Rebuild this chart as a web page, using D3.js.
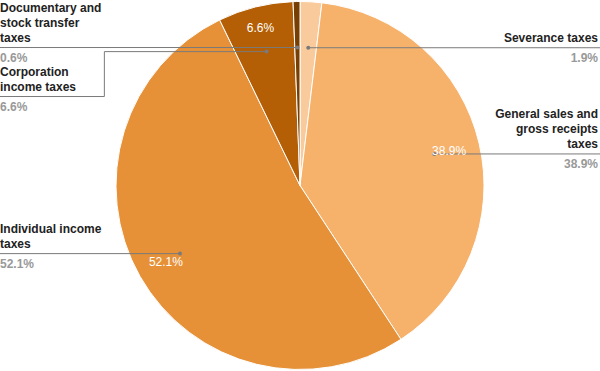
<!DOCTYPE html>
<html>
<head>
<meta charset="utf-8">
<script src="https://cdn.jsdelivr.net/npm/d3@7"></script>
<style>
  body { margin: 0; background: #fff; }
  svg text { font-family: "Liberation Sans", Arial, sans-serif; }
</style>
</head>
<body>
<div id="chart"></div>
<script>
// data, clockwise from 12 o'clock
const categories = [
  "Severance taxes",
  "General sales and gross receipts taxes",
  "Individual income taxes",
  "Corporation income taxes",
  "Documentary and stock transfer taxes"
];
const values = [1.9, 38.9, 52.1, 6.6, 0.6];
const colors = ["#f9cb9c", "#f6b26b", "#e69138", "#b45f06", "#783f04"];

const width = 600;
const height = 371;
const cx = 300, cy = 185.5, R = 184;
const fontSize = 12, lineH = 15, wrapW = 108;

const svg = d3.select("#chart").append("svg")
  .attr("width", width)
  .attr("height", height);

const pie = d3.pie().sort(null).value(d => d);
const arcs = pie(values);
const arc = d3.arc().innerRadius(0).outerRadius(R);

const g = svg.append("g").attr("transform", `translate(${cx},${cy})`);

g.selectAll("path.slice").data(arcs).enter().append("path")
  .attr("class", "slice")
  .attr("d", arc)
  .attr("fill", (d, i) => colors[i])
  .attr("stroke", "#fff")
  .attr("stroke-width", 1);

// text measuring helper
const meas = svg.append("text").attr("font-size", fontSize).attr("font-weight", "bold");
function textW(s, weight) {
  meas.attr("font-weight", weight || "bold").text(s);
  return meas.node().getComputedTextLength();
}
function wrap(s) {
  const words = s.split(" ");
  const lines = [];
  let cur = "";
  words.forEach(w => {
    const t = cur ? cur + " " + w : w;
    if (cur && textW(t) > wrapW) { lines.push(cur); cur = w; }
    else cur = t;
  });
  if (cur) lines.push(cur);
  return lines;
}

const fmt = v => d3.format(".1f")(v) + "%";

// leader label data
const items = arcs.map((d, i) => {
  const mid = (d.startAngle + d.endAngle) / 2;
  const r = R * 0.75;
  return {
    i,
    mid,
    dx: cx + r * Math.sin(mid),
    dy: cy - r * Math.cos(mid),
    side: Math.sin(mid) >= 0 ? "right" : "left",
    lines: wrap(categories[i]),
    value: values[i]
  };
});

["left", "right"].forEach(side => {
  const list = items.filter(d => d.side === side).sort((a, b) => a.dy - b.dy);
  let prevBottom = -Infinity;
  list.forEach(d => {
    const topNeeded = 6 + (d.lines.length - 1) * lineH + 9;
    d.lineY = Math.max(d.dy, prevBottom + 2 + topNeeded);
    prevBottom = d.lineY + 17;
  });
  const maxW = d3.max(list, d => d3.max(d.lines, l => textW(l)));
  list.forEach(d => {
    d.elbowX = side === "left" ? maxW + 3 : width - maxW - 3;
    d.edgeX = side === "left" ? 0 : width;
    d.textX = side === "left" ? 0 : width - 2;
  });
});

meas.remove();

const lab = svg.append("g");

lab.selectAll("path.leader").data(items).enter().append("path")
  .attr("class", "leader")
  .attr("fill", "none")
  .attr("stroke", "#7a7a7a")
  .attr("stroke-width", 1)
  .attr("d", d => {
    if (Math.abs(d.lineY - d.dy) < 0.5) return `M${d.dx},${d.dy}H${d.edgeX}`;
    return `M${d.dx},${d.dy}H${d.elbowX}V${d.lineY}H${d.edgeX}`;
  });

lab.selectAll("circle.dot").data(items).enter().append("circle")
  .attr("class", "dot")
  .attr("cx", d => d.dx)
  .attr("cy", d => d.dy)
  .attr("r", 2)
  .attr("fill", "#7a7a7a");

items.forEach(d => {
  const anchor = d.side === "left" ? "start" : "end";
  const n = d.lines.length;
  d.lines.forEach((l, k) => {
    lab.append("text")
      .attr("x", d.textX)
      .attr("y", d.lineY - 6 - (n - 1 - k) * lineH)
      .attr("text-anchor", anchor)
      .attr("font-size", fontSize)
      .attr("font-weight", "bold")
      .attr("fill", "#222")
      .text(l);
  });
  lab.append("text")
    .attr("x", d.textX)
    .attr("y", d.lineY + 14)
    .attr("text-anchor", anchor)
    .attr("font-size", fontSize)
    .attr("font-weight", "bold")
    .attr("fill", "#999")
    .text(fmt(d.value));
});

// percentage labels inside large slices
const capH = fontSize * 0.72;
arcs.forEach((d, i) => {
  if (d.endAngle - d.startAngle < 0.3) return;
  const mid = (d.startAngle + d.endAngle) / 2;
  const t = svg.append("text")
    .attr("font-size", fontSize)
    .attr("fill", "#fff")
    .attr("text-anchor", "middle")
    .text(fmt(values[i]));
  const w = t.node().getComputedTextLength();
  let r = R * 0.93;
  for (; r > 0; r -= 0.5) {
    const x = r * Math.sin(mid), y = -r * Math.cos(mid);
    const far = d3.max([[-1, -1], [-1, 1], [1, -1], [1, 1]],
      c => Math.hypot(x + c[0] * w / 2, y + c[1] * capH / 2));
    if (far <= R * 0.93) break;
  }
  t.attr("x", cx + r * Math.sin(mid))
   .attr("y", cy - r * Math.cos(mid) + capH / 2);
});
</script>
</body>
</html>
